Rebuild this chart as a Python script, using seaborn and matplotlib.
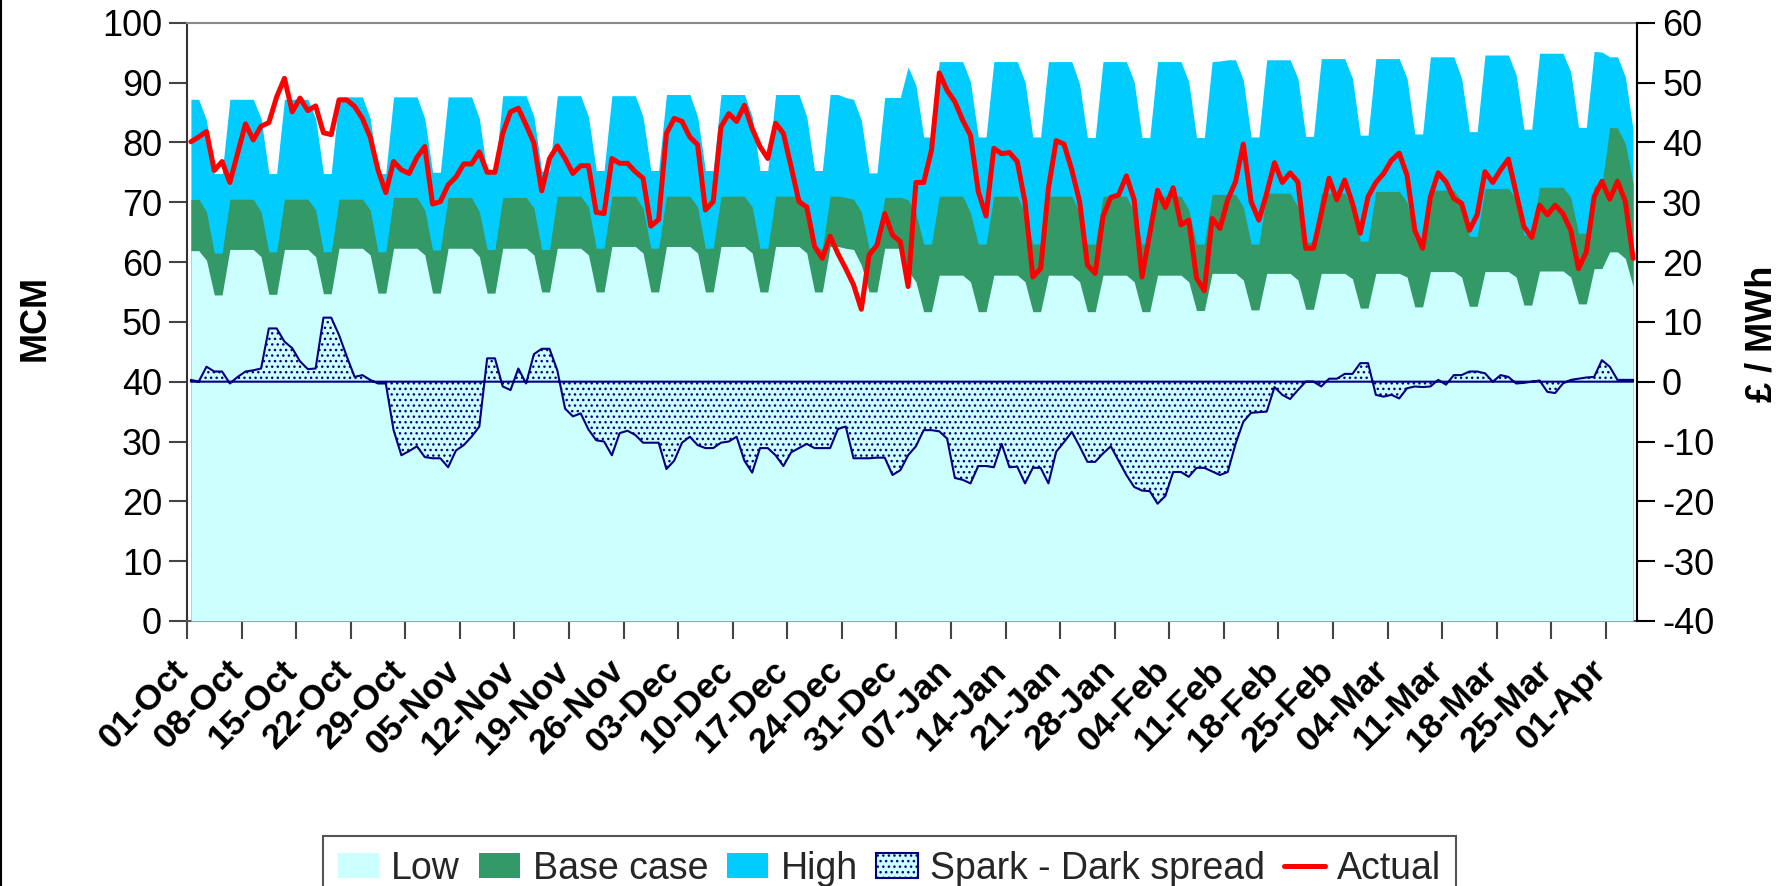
import numpy as np
import pandas as pd
import matplotlib
matplotlib.use("Agg")
import matplotlib.pyplot as plt
import matplotlib.transforms as mtransforms
from matplotlib.lines import Line2D
import seaborn as sns

# ---------------- data (daily, 01-Oct .. 04-Apr) ----------------
tick_labels = ["01-Oct", "08-Oct", "15-Oct", "22-Oct", "29-Oct", "05-Nov", "12-Nov",
               "19-Nov", "26-Nov", "03-Dec", "10-Dec", "17-Dec", "24-Dec", "31-Dec",
               "07-Jan", "14-Jan", "21-Jan", "28-Jan", "04-Feb", "11-Feb", "18-Feb",
               "25-Feb", "04-Mar", "11-Mar", "18-Mar", "25-Mar", "01-Apr"]

low = [61.9, 61.9, 60.3, 54.5, 54.5, 62.1, 62.1,
       62.1, 62.1, 60.9, 54.6, 54.6, 62.1, 62.1,
       62.1, 62.1, 60.9, 54.7, 54.7, 62.3, 62.3,
       62.3, 62.3, 61.2, 54.8, 54.8, 62.3, 62.3,
       62.3, 62.3, 61.2, 54.8, 54.8, 62.3, 62.3,
       62.3, 62.3, 60.9, 54.8, 54.8, 62.3, 62.3,
       62.3, 62.3, 61.2, 55.0, 55.0, 62.3, 62.3,
       62.3, 62.3, 61.2, 55.0, 55.0, 62.6, 62.6,
       62.6, 62.6, 61.5, 55.0, 55.0, 62.6, 62.6,
       62.6, 62.6, 61.5, 55.0, 55.0, 62.6, 62.6,
       62.6, 62.6, 61.5, 55.0, 55.0, 62.6, 62.6,
       62.6, 62.6, 61.5, 55.0, 55.0, 62.6, 62.6,
       62.3, 62.1, 59.5, 55.0, 55.0, 62.3, 62.3,
       62.3, 58.5, 56.7, 51.7, 51.7, 57.8, 57.8,
       57.8, 57.8, 56.7, 51.7, 51.7, 57.8, 57.8,
       57.8, 57.8, 56.7, 51.7, 51.7, 57.8, 57.8,
       57.8, 57.8, 56.7, 51.7, 51.7, 57.8, 57.8,
       57.8, 57.8, 56.7, 51.7, 51.7, 57.8, 57.8,
       57.8, 57.8, 56.7, 51.9, 51.9, 58.1, 58.1,
       58.1, 58.1, 57.0, 52.0, 52.0, 58.1, 58.1,
       58.1, 58.1, 57.0, 52.1, 52.1, 58.1, 58.1,
       58.1, 58.1, 57.2, 52.3, 52.3, 58.1, 58.1,
       58.1, 58.1, 57.5, 52.5, 52.5, 58.4, 58.4,
       58.4, 58.4, 57.5, 52.6, 52.6, 58.4, 58.4,
       58.4, 58.4, 57.5, 52.8, 52.8, 58.5, 58.5,
       58.5, 58.5, 57.5, 53.0, 53.0, 58.9, 58.9,
       61.7, 61.7, 60.6, 55.9]

base_case = [70.4, 70.5, 68.4, 61.5, 61.5, 70.5, 70.5,
             70.5, 70.5, 68.4, 61.7, 61.7, 70.5, 70.5,
             70.5, 70.5, 68.7, 61.7, 61.7, 70.5, 70.5,
             70.5, 70.5, 68.7, 61.7, 61.7, 70.8, 70.8,
             70.8, 70.8, 68.7, 62.0, 62.0, 70.8, 70.8,
             70.8, 70.8, 68.4, 62.1, 62.1, 70.8, 70.8,
             70.8, 70.8, 69.0, 62.1, 62.1, 71.0, 71.0,
             71.0, 71.0, 69.2, 62.3, 62.3, 71.0, 71.0,
             71.0, 71.0, 69.0, 62.3, 62.3, 71.0, 71.0,
             71.0, 71.0, 69.2, 62.3, 62.3, 71.0, 71.0,
             71.0, 71.0, 69.2, 62.3, 62.3, 71.0, 71.0,
             71.0, 71.0, 69.2, 62.3, 62.3, 71.0, 71.0,
             70.8, 70.5, 68.4, 62.3, 62.3, 70.8, 70.8,
             70.8, 70.4, 68.2, 63.0, 63.0, 71.0, 71.0,
             71.0, 71.0, 68.2, 63.0, 63.0, 71.0, 71.0,
             71.0, 71.0, 68.2, 63.0, 63.0, 71.0, 71.0,
             71.0, 71.0, 68.2, 63.0, 63.0, 71.0, 71.0,
             71.0, 71.0, 68.4, 63.0, 63.0, 71.0, 71.0,
             71.0, 71.0, 68.7, 63.0, 63.0, 71.3, 71.3,
             71.3, 71.3, 69.2, 63.0, 63.0, 71.5, 71.5,
             71.5, 71.5, 69.2, 63.3, 63.3, 71.5, 71.5,
             71.5, 71.5, 69.2, 63.5, 63.5, 71.8, 71.8,
             71.8, 71.8, 70.0, 64.0, 64.0, 72.0, 72.0,
             72.0, 72.0, 70.2, 64.3, 64.3, 72.3, 72.3,
             72.3, 72.3, 70.5, 64.5, 64.5, 72.5, 72.5,
             72.5, 72.5, 70.8, 64.8, 64.8, 72.7, 72.9,
             82.5, 82.4, 79.8, 73.2]

high = [87.2, 87.2, 83.7, 74.8, 74.8, 87.2, 87.2,
        87.2, 87.2, 84.0, 74.8, 74.8, 87.2, 87.2,
        87.2, 87.2, 84.0, 74.8, 74.8, 87.6, 87.6,
        87.6, 87.6, 84.0, 74.8, 74.8, 87.6, 87.6,
        87.6, 87.6, 84.0, 75.0, 75.0, 87.6, 87.6,
        87.6, 87.6, 84.0, 74.8, 74.8, 87.8, 87.8,
        87.8, 87.8, 84.3, 75.2, 75.2, 87.8, 87.8,
        87.8, 87.8, 84.3, 75.3, 75.3, 87.8, 87.8,
        87.8, 87.8, 84.3, 75.3, 75.3, 88.0, 88.0,
        88.0, 88.0, 84.3, 75.3, 75.3, 88.0, 88.0,
        88.0, 88.0, 84.3, 75.3, 75.3, 88.0, 88.0,
        88.0, 88.0, 84.3, 75.3, 75.3, 88.0, 88.0,
        87.5, 87.2, 83.7, 74.9, 74.9, 87.5, 87.5,
        87.5, 92.6, 89.6, 80.9, 80.9, 93.5, 93.5,
        93.5, 93.5, 90.1, 80.9, 80.9, 93.5, 93.5,
        93.5, 93.5, 90.1, 80.9, 80.9, 93.5, 93.5,
        93.5, 93.5, 89.7, 80.8, 80.8, 93.5, 93.5,
        93.5, 93.5, 90.1, 80.8, 80.8, 93.5, 93.5,
        93.5, 93.5, 90.1, 80.8, 80.8, 93.5, 93.6,
        93.8, 93.8, 90.4, 80.9, 80.9, 93.8, 93.8,
        93.8, 93.8, 90.7, 81.0, 81.0, 94.0, 94.0,
        94.0, 94.0, 90.7, 81.2, 81.2, 94.0, 94.0,
        94.0, 94.0, 90.7, 81.4, 81.4, 94.3, 94.3,
        94.3, 94.3, 90.7, 81.8, 81.8, 94.6, 94.6,
        94.6, 94.6, 91.3, 82.2, 82.2, 94.9, 94.9,
        94.9, 94.9, 91.8, 82.5, 82.5, 95.2, 95.1,
        94.3, 94.3, 91.0, 82.1]

spread = [0.3, 0.0, 2.5, 1.7, 1.7, -0.3, 0.8,
          1.7, 1.9, 2.2, 8.9, 8.9, 6.7, 5.6,
          3.4, 2.1, 2.2, 10.7, 10.7, 7.8, 4.2,
          0.8, 1.1, 0.3, -0.3, -0.3, -8.1, -12.3,
          -11.6, -10.8, -12.6, -12.8, -12.8, -14.3, -11.5,
          -10.6, -9.2, -7.5, 3.9, 3.9, -0.8, -1.4,
          2.2, -0.3, 4.6, 5.5, 5.5, 1.9, -4.5,
          -5.8, -5.3, -8.0, -9.8, -10.0, -12.3, -8.6,
          -8.2, -8.9, -10.2, -10.2, -10.2, -14.6, -13.2,
          -10.2, -9.2, -10.6, -11.1, -11.1, -10.2, -10.0,
          -9.2, -13.2, -15.2, -11.1, -11.1, -12.3, -14.1,
          -11.8, -11.1, -10.4, -11.1, -11.1, -11.1, -7.9,
          -7.5, -12.8, -12.8, -12.8, -12.7, -12.7, -15.6,
          -14.8, -12.3, -10.8, -8.1, -8.1, -8.3, -9.5,
          -16.1, -16.4, -17.0, -14.1, -14.1, -14.3, -10.4,
          -14.3, -14.2, -17.0, -14.4, -14.4, -17.0, -11.7,
          -10.1, -8.4, -10.8, -13.4, -13.4, -12.0, -10.8,
          -13.2, -15.6, -17.6, -18.2, -18.3, -20.4, -19.1,
          -15.1, -15.1, -15.9, -14.4, -14.4, -15.0, -15.6,
          -15.1, -10.4, -6.7, -5.2, -5.1, -5.0, -0.9,
          -2.2, -2.9, -1.4, 0.0, 0.0, -0.8, 0.5,
          0.5, 1.3, 1.3, 3.1, 3.1, -2.2, -2.5,
          -2.2, -2.8, -1.1, -0.8, -0.9, -0.8, 0.3,
          -0.5, 1.1, 1.1, 1.7, 1.7, 1.4, 0.0,
          1.1, 0.8, -0.3, -0.2, 0.0, 0.2, -1.7,
          -1.9, -0.3, 0.3, 0.5, 0.7, 0.8, 3.6,
          2.5, 0.3, 0.3, 0.3]

actual = [80.1, 80.9, 81.8, 75.3, 76.8, 73.3, 78.2,
          83.1, 80.4, 82.7, 83.3, 87.6, 90.7, 85.1,
          87.4, 85.3, 86.1, 81.6, 81.3, 87.1, 87.1,
          86.0, 84.0, 80.9, 75.4, 71.6, 76.8, 75.4,
          74.8, 77.5, 79.3, 69.7, 70.1, 72.9, 74.2,
          76.4, 76.4, 78.4, 75.0, 75.0, 81.5, 85.1,
          85.7, 82.9, 79.9, 71.9, 77.3, 79.4, 77.3,
          74.8, 76.1, 76.1, 68.3, 68.1, 77.3, 76.5,
          76.5, 75.1, 74.0, 66.0, 67.1, 81.5, 84.0,
          83.5, 80.9, 79.6, 68.7, 70.1, 82.6, 84.8,
          83.5, 86.2, 82.3, 79.3, 77.3, 83.2, 81.5,
          75.9, 70.1, 69.2, 62.6, 60.6, 64.3, 61.4,
          58.9, 56.2, 52.1, 61.2, 62.8, 68.1, 64.5,
          63.4, 55.9, 73.3, 73.3, 78.7, 91.6, 88.7,
          86.8, 83.7, 81.2, 71.8, 67.7, 79.0, 78.1,
          78.3, 76.8, 70.0, 57.5, 58.9, 72.3, 80.3,
          79.7, 75.4, 70.1, 59.5, 58.1, 67.6, 70.8,
          71.2, 74.4, 70.4, 57.5, 64.8, 72.0, 69.1,
          72.4, 66.2, 67.0, 57.3, 55.2, 67.3, 65.6,
          70.4, 73.4, 79.7, 70.1, 67.0, 71.5, 76.6,
          73.3, 74.9, 73.4, 62.3, 62.3, 68.1, 74.0,
          70.4, 73.7, 69.8, 64.8, 70.9, 73.3, 74.8,
          77.0, 78.2, 74.5, 65.3, 62.3, 70.9, 74.9,
          73.4, 70.6, 69.8, 65.3, 67.9, 75.1, 73.3,
          75.4, 77.2, 71.5, 65.9, 64.1, 69.5, 67.9,
          69.5, 68.1, 65.3, 58.9, 61.7, 70.9, 73.5,
          70.5, 73.5, 70.1, 60.6]

# ---------------- style ----------------
sns.set_theme(style="white")
plt.rcParams["font.family"] = ["Liberation Sans", "DejaVu Sans"]
plt.rcParams["hatch.linewidth"] = 1.0
plt.rcParams["axes.unicode_minus"] = False

C_LOW, C_BASE, C_HIGH = "#CCFFFF", "#339966", "#00CCFF"
NAVY, RED = "#000080", "#FF0000"

n = len(actual)
df = pd.DataFrame({"day": np.arange(n) + 0.5, "Low": low, "Base": base_case,
                   "High": high, "Spread": spread, "Actual": actual})

W, H = 1788, 886
fig = plt.figure(figsize=(W / 100, H / 100), dpi=100)
fig.patch.set_facecolor("white")
ax = fig.add_axes([187 / W, 1 - 621 / H, 1450 / W, 598.3 / H])
ax2 = ax.twinx()

h_high = ax.fill_between(df["day"], 0, df["High"], color=C_HIGH, lw=0, zorder=1)
h_base = ax.fill_between(df["day"], 0, df["Base"], color=C_BASE, lw=0, zorder=2)
h_low = ax.fill_between(df["day"], 0, df["Low"], color=C_LOW, lw=0, zorder=3)
sns.lineplot(data=df, x="day", y="Actual", ax=ax, color=RED, lw=3.6,
             legend=False, zorder=6)
h_sp = ax2.fill_between(df["day"], 0, df["Spread"], facecolor=C_LOW,
                        edgecolor=NAVY, hatch="...", lw=1.5, zorder=4)

# axes limits and ticks
ax.set_xlim(0, n)
ax.set_ylim(0, 100)
ax.set_yticks(np.arange(0, 101, 10))
ax2.set_ylim(-40, 60)
ax2.set_yticks(np.arange(-40, 61, 10))

major = np.arange(0, n, 7)
ax.set_xticks(major, labels=[""] * len(major))
ax.set_xticks(major + 0.5, labels=tick_labels, minor=True)

tick_col = "#444444"
ax.tick_params(axis="x", which="major", bottom=True, length=13, width=1.5,
               color=tick_col, direction="out")
ax.tick_params(axis="x", which="minor", bottom=True, length=0, pad=32,
               labelsize=25.5)
ax.tick_params(axis="y", left=True, length=13, width=1.5, color=tick_col,
               labelsize=26, pad=5, labelcolor="black")
ax2.tick_params(axis="y", right=True, length=13, width=1.5, color="black",
                labelsize=26, pad=5, labelcolor="black")

for lab in ax.get_xticklabels(minor=True):
    lab.set_rotation(45)
    lab.set_ha("right")
    lab.set_va("center")
    lab.set_rotation_mode("anchor")
    lab.set_fontweight("bold")
    lab.set_color("black")

ax.set_xlabel("")
ax.set_ylabel("MCM", fontsize=26, fontweight="bold", color="black")
ax.yaxis.label.set_va("center")
ax.yaxis.set_label_coords(-0.105, 0.507)
ax2.set_ylabel("£ / MWh", fontsize=26, fontweight="bold", color="black")
ax2.yaxis.label.set_va("center")
ax2.yaxis.set_label_coords(1.086, 0.48)

for name, sp in ax.spines.items():
    sp.set_linewidth(1.5)
    sp.set_color({"left": "#333333", "bottom": "#555555",
                  "top": "#888888", "right": "#888888"}[name])
for name, sp in ax2.spines.items():
    if name == "right":
        sp.set_color("black")
        sp.set_linewidth(1.5)
    else:
        sp.set_visible(False)

# shift x labels slightly to the left like the original
offset = mtransforms.ScaledTranslation(-8 / 100, 0, fig.dpi_scale_trans)
for lab in ax.xaxis.get_ticklabels(minor=True):
    lab.set_transform(lab.get_transform() + offset)

# legend
handles = [h_low, h_base, h_high, h_sp, Line2D([], [], color=RED, lw=3.6)]
labels = ["Low", "Base case", "High", "Spark - Dark spread", "Actual"]
leg = fig.legend(handles, labels, loc="upper left",
                 bbox_to_anchor=(322.7 / W, 1 - 835.8 / H), ncol=5,
                 frameon=True, fancybox=False, edgecolor="#555555",
                 facecolor="white", framealpha=1, fontsize=27,
                 handlelength=1.1, handleheight=0.62, handletextpad=0.33,
                 columnspacing=0.5, borderpad=0.4, borderaxespad=0)
leg.get_frame().set_linewidth(1.5)

# chart-area border at the far left
fig.add_artist(Line2D([1 / W, 1 / W], [0, 1], transform=fig.transFigure,
                      color="black", lw=1.5))

fig.savefig("out.png", dpi=100)
